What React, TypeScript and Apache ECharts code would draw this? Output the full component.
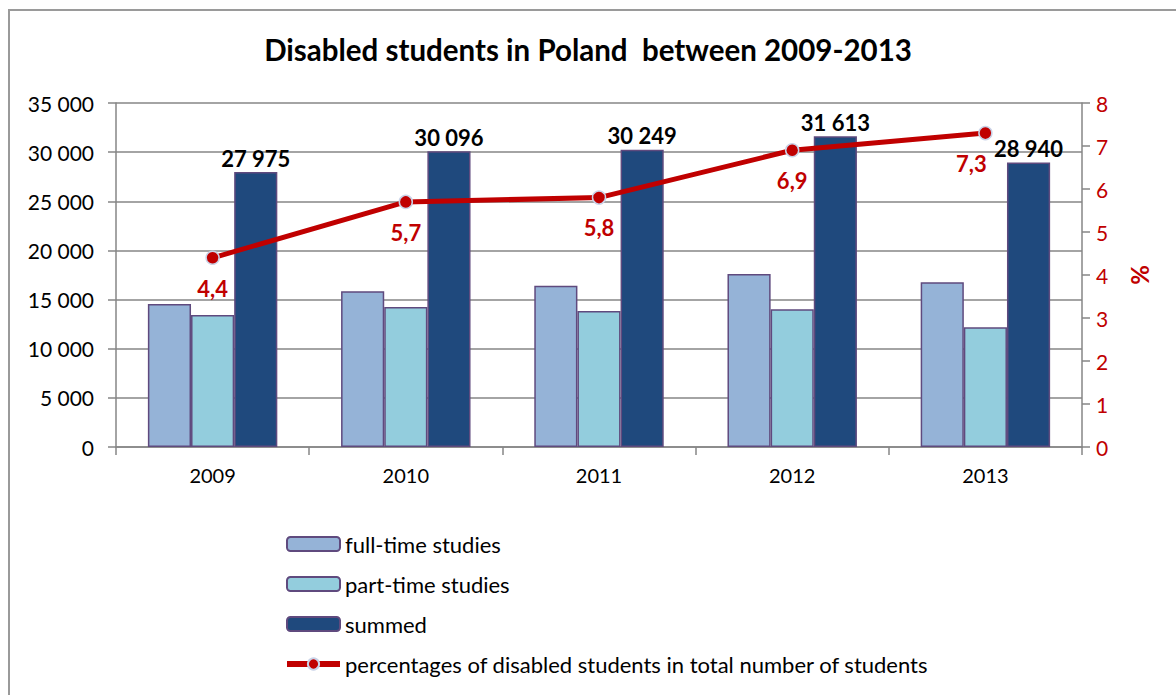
import React, { useEffect, useRef } from "react";
import * as echarts from "echarts";

const years = ["2009", "2010", "2011", "2012", "2013"];
const fullTime = [14550, 15850, 16400, 17600, 16750];
const partTime = [13425, 14246, 13849, 14013, 12190];
const summed = [27975, 30096, 30249, 31613, 28940];
const percentages = [4.4, 5.7, 5.8, 6.9, 7.3];

const FONT = "Lato, 'Open Sans', sans-serif";

const fmtThousands = (v: number) =>
  String(Math.round(v)).replace(/\B(?=(\d{3})+(?!\d))/g, " ");

export default function App() {
  const ref = useRef<HTMLDivElement>(null);

  useEffect(() => {
    document.body.style.margin = "0";
    if (!ref.current) return;
    const chart = echarts.init(ref.current, undefined, { renderer: "svg" });
    const barBorder = { borderColor: "#5f4a7e", borderWidth: 1.5 };
    const lineName = "percentages of disabled students in total number of students";
    chart.setOption({
      animation: false,
      backgroundColor: "#ffffff",
      textStyle: { fontFamily: FONT },
      title: {
        text: "Disabled students in Poland  between 2009-2013",
        left: "center",
        top: 29,
        textStyle: { fontFamily: FONT, fontSize: 29.5, fontWeight: "bold", color: "#000" },
      },
      graphic: [
        {
          type: "rect",
          shape: { x: 9, y: 10, width: 1200, height: 720 },
          style: { fill: "none", stroke: "#9a9a9a", lineWidth: 2 },
          silent: true,
        },
      ],
      grid: { left: 116, right: 94, top: 103, bottom: 248, containLabel: false },
      legend: {
        orient: "vertical",
        left: 279,
        top: 528,
        itemGap: 18,
        itemWidth: 53,
        itemHeight: 14,
        itemSymbolSize: 15,
        textStyle: { fontFamily: FONT, fontSize: 22, color: "#000" },
        data: [
          "full-time studies",
          "part-time studies",
          "summed",
          { name: lineName, lineStyle: { width: 6 } },
        ],
      },
      xAxis: {
        type: "category",
        data: years,
        axisLine: { show: true, lineStyle: { color: "#868686", width: 1.5 } },
        axisTick: { show: true, length: 8, lineStyle: { color: "#868686", width: 1.5 } },
        axisLabel: { fontFamily: FONT, fontSize: 20, color: "#000", margin: 18 },
      },
      yAxis: [
        {
          type: "value",
          min: 0,
          max: 35000,
          interval: 5000,
          axisLine: { show: true, lineStyle: { color: "#868686", width: 1.5 } },
          axisTick: { show: true, length: 8, lineStyle: { color: "#868686", width: 1.5 } },
          splitLine: { show: true, lineStyle: { color: "#868686", width: 1.5 } },
          axisLabel: {
            fontFamily: FONT,
            fontSize: 21,
            color: "#000",
            margin: 22,
            formatter: (v: number) => fmtThousands(v),
          },
        },
        {
          type: "value",
          min: 0,
          max: 8,
          interval: 1,
          position: "right",
          name: "%",
          nameLocation: "middle",
          nameRotate: 90,
          nameGap: 45,
          nameTextStyle: { fontFamily: FONT, fontSize: 24, fontWeight: "bold", color: "#c00000" },
          axisLine: { show: true, lineStyle: { color: "#868686", width: 1.5 } },
          axisTick: { show: true, length: 8, lineStyle: { color: "#868686", width: 1.5 } },
          splitLine: { show: false },
          axisLabel: { fontFamily: FONT, fontSize: 21, color: "#c00000", margin: 14 },
        },
      ],
      series: [
        {
          name: "full-time studies",
          type: "bar",
          data: fullTime,
          barGap: "0%",
          barCategoryGap: "33%",
          itemStyle: { color: "#95b3d7", ...barBorder },
        },
        {
          name: "part-time studies",
          type: "bar",
          data: partTime,
          barGap: "0%",
          barCategoryGap: "33%",
          itemStyle: { color: "#93cddd", ...barBorder },
        },
        {
          name: "summed",
          type: "bar",
          data: summed,
          barGap: "0%",
          barCategoryGap: "33%",
          itemStyle: { color: "#1f497d", ...barBorder },
          label: {
            show: true,
            position: "top",
            distance: 3,
            fontFamily: FONT,
            fontSize: 22,
            fontWeight: "bold",
            color: "#000",
            formatter: (p: any) => fmtThousands(p.value),
          },
        },
        {
          name: lineName,
          type: "line",
          yAxisIndex: 1,
          data: percentages.map((v, i) =>
            i === percentages.length - 1
              ? { value: v, label: { offset: [-14, 0] } }
              : v
          ),
          z: 5,
          symbol: "circle",
          symbolSize: 13,
          lineStyle: { color: "#c00000", width: 5 },
          itemStyle: { color: "#c00000", borderColor: "#c9d3e8", borderWidth: 1.5 },
          label: {
            show: true,
            position: "bottom",
            distance: 12,
            fontFamily: FONT,
            fontSize: 22,
            fontWeight: "bold",
            color: "#c00000",
            formatter: (p: any) => String(p.value).replace(".", ","),
          },
        },
      ],
    });
    return () => chart.dispose();
  }, []);

  return <div ref={ref} style={{ width: 1176, height: 695 }} />;
}
